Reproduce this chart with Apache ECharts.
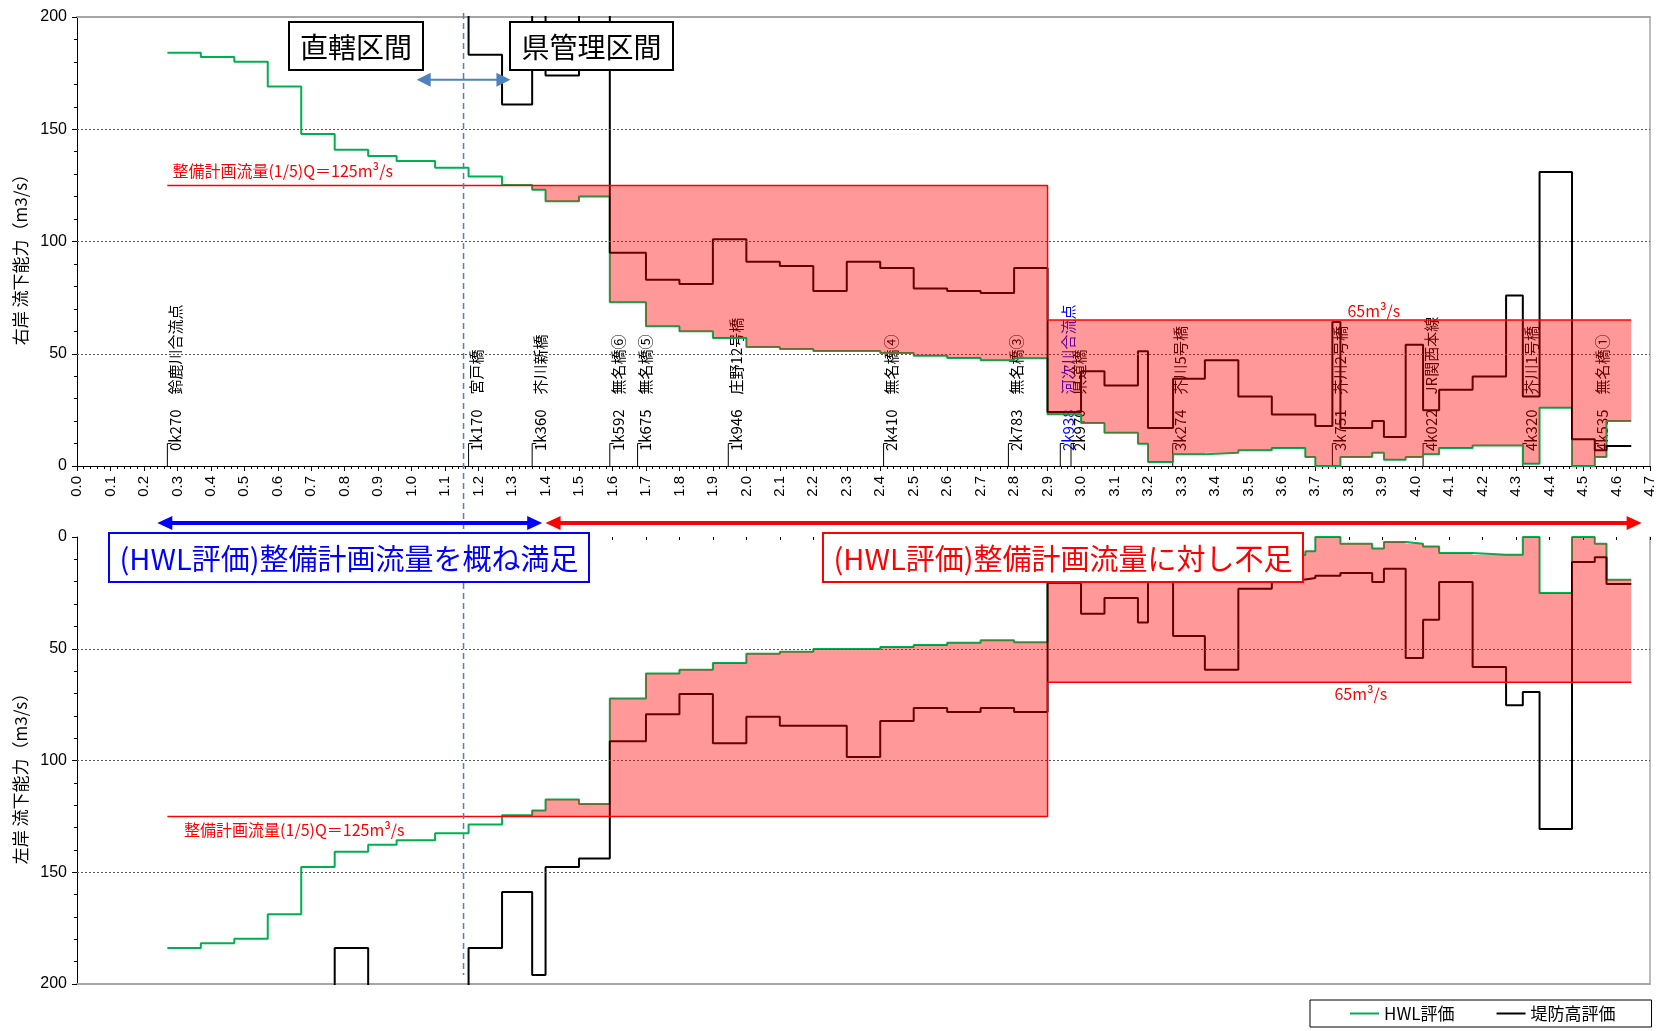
<!DOCTYPE html>
<html>
<head>
<meta charset="utf-8">
<script src="https://cdn.jsdelivr.net/npm/echarts@6/dist/echarts.min.js"></script>
<style>
  html, body { margin: 0; padding: 0; background: #fff; }
  #chart { width: 1671px; height: 1031px; }
</style>
</head>
<body>
<div id="chart"></div>
<script>
// ---- Section boundaries along the river (km) ----
const breaks = [0.27, 0.37, 0.47, 0.57, 0.67, 0.77, 0.87, 0.955, 1.07, 1.17,
  1.27, 1.36, 1.40, 1.50, 1.592, 1.70, 1.80, 1.90, 2.00, 2.10,
  2.20, 2.30, 2.40, 2.50, 2.60, 2.70, 2.80, 2.90, 3.00, 3.07,
  3.17, 3.20, 3.275, 3.37, 3.47, 3.57, 3.67, 3.70, 3.751, 3.775,
  3.87, 3.905, 3.97, 4.022, 4.07, 4.17, 4.27, 4.32, 4.37, 4.467,
  4.535, 4.57, 4.644];

// Values above the 200 m3/s axis limit (drawn off-scale)
const OFF = 230;

// ---- Right bank (右岸) flow capacity per section (m3/s) ----
const hwlRight = [184.1, 182.2, 180.1, 169.0, 147.9, 140.9, 138.1, 135.9, 132.9, 129.0,
  125.2, 123.1, 117.9, 120.0, 72.9, 62.2, 60.0, 57.0, 53.0, 52.1,
  51.2, 51.2, 50.3, 49.1, 48.1, 47.1, 48.0, 23.0, 19.2, 14.8,
  9.9, 1.8, 5.2, 5.9, 7.0, 8.0, 4.0, 0, 0, 4.0,
  5.9, 2.8, 4.0, 5.2, 8.0, 9.1, 9.1, 1.0, 26.0, 0,
  4.0, 20.0];
const leveeRight = [OFF, OFF, OFF, OFF, OFF, OFF, OFF, OFF, OFF, 183.2,
  161.0, OFF, 173.9, OFF, 95.0, 83.0, 81.1, 101.0, 91.0, 89.1,
  78.0, 91.0, 88.2, 79.1, 78.0, 77.1, 88.2, 24.1, 42.2, 35.9,
  51.1, 16.9, 38.9, 47.1, 31.0, 22.9, 22.9, 17.8, 64.1, 16.9,
  20.0, 12.9, 54.0, 24.8, 34.0, 39.9, 76.0, 31.0, 131.0, 11.9,
  7.0, 8.9];

// ---- Left bank (左岸) flow capacity per section (m3/s) ----
const hwlLeft = [183.9, 181.8, 179.7, 168.8, 147.7, 140.8, 137.7, 135.7, 132.6, 128.6,
  124.5, 122.4, 117.5, 119.5, 72.3, 61.1, 59.4, 56.4, 52.2, 51.3,
  50.1, 50.1, 49.2, 48.3, 47.3, 46.2, 47.1, 20.6, 19.0, 14.0,
  10.0, 2.0, 5.0, 6.0, 7.0, 8.0, 6.4, 0, 0, 3.0,
  5.2, 2.2, 3.0, 4.2, 7.2, 7.9, 7.9, 0, 25.1, 0,
  3.0, 19.1];
const leveeLeft = [OFF, OFF, OFF, OFF, OFF, 183.9, OFF, OFF, OFF, 183.9,
  158.8, 196.0, 147.7, 143.8, 91.4, 79.3, 70.2, 92.3, 80.4, 84.4,
  84.4, 98.4, 82.3, 76.5, 78.3, 76.5, 78.3, 20.6, 34.3, 27.3,
  38.3, 15.0, 44.3, 59.4, 23.1, 19.0, 18.3, 17.3, 17.3, 16.1,
  20.1, 14.2, 54.1, 37.0, 20.1, 58.2, 75.3, 69.4, 130.6, 11.2,
  9.1, 21.0];

// ---- Planned design flow (整備計画流量) ----
const planBreaks = [0.27, 2.90, 4.644];
const planFlow = [125, 65];

// ---- Bridges / confluences ----
const stationKm = [0.270, 1.170, 1.360, 1.592, 1.675, 1.946, 2.410, 2.783, 2.938, 2.970,
  3.274, 3.751, 4.022, 4.320, 4.535];
const stationCode = ['0k270', '1k170', '1k360', '1k592', '1k675', '1k946', '2k410', '2k783', '2k938', '2k970',
  '3k274', '3k751', '4k022', '4k320', '4k535'];
const stationName = ['鈴鹿川合流点', '宮戸橋', '芥川新橋', '無名橋⑥', '無名橋⑤', '庄野12号橋', '無名橋④', '無名橋③', '河次川合流点', '県道橋',
  '芥川5号橋', '芥川2号橋', 'JR関西本線', '芥川1号橋', '無名橋①'];
const stationIsConfluence = [false, false, false, false, false, false, false, false, true, false,
  false, false, false, false, false];

// Boundary between the national and prefectural sections (km)
const SECTION_KM = 1.155;

const FONT_JP = '"Noto Sans CJK JP", "Noto Sans", sans-serif';
const FONT_NUM = '"Liberation Sans", Arial, sans-serif';
const GREEN = '#00b050';

// step polyline: every section is a flat run, joined by vertical jumps
function stepPoints(vals) {
  const pts = [];
  vals.forEach((v, i) => { pts.push([breaks[i], v], [breaks[i + 1], v]); });
  return pts;
}

// deficit polygons between the plan flow and the HWL capacity
function deficitPolygons(hwl) {
  const polys = [];
  for (let r = 0; r < planFlow.length; r++) {
    const xa = planBreaks[r], xb = planBreaks[r + 1], q = planFlow[r];
    const pts = [[xa, q], [xb, q]];
    for (let i = breaks.length - 2; i >= 0; i--) {
      if (breaks[i] >= xa - 1e-9 && breaks[i + 1] <= xb + 1e-9) {
        const v = Math.min(hwl[i], q);
        pts.push([breaks[i + 1], v], [breaks[i], v]);
      }
    }
    polys.push(pts);
  }
  return polys;
}

function planPoints() {
  const pts = [];
  planFlow.forEach((q, i) => { pts.push([planBreaks[i], q], [planBreaks[i + 1], q]); });
  return pts;
}

function stepSeries(name, vals, color, gi, z, withGrid) {
  const s = {
    name, type: 'line', xAxisIndex: gi * 2, yAxisIndex: gi * 2,
    data: stepPoints(vals), symbol: 'none', clip: true, silent: true, z,
    lineStyle: { color, width: 2 }, itemStyle: { color }
  };
  if (withGrid) {
    s.markLine = {
      silent: true, symbol: 'none', label: { show: false }, animation: false,
      lineStyle: { type: [2, 2], color: '#555', width: 1 },
      data: [{ yAxis: 50 }, { yAxis: 100 }, { yAxis: 150 }]
    };
  }
  return s;
}

function fillSeries(hwl, gi) {
  const polys = deficitPolygons(hwl);
  return {
    type: 'custom', xAxisIndex: gi * 2, yAxisIndex: gi * 2, z: 5, silent: true,
    data: polys.map(p => p[0]),
    renderItem: (params, api) => ({
      type: 'polygon',
      shape: { points: polys[params.dataIndex].map(p => api.coord(p)) },
      style: { fill: 'rgba(255,0,0,0.4)', stroke: 'none' }
    })
  };
}

function planSeries(gi) {
  return {
    type: 'line', xAxisIndex: gi * 2, yAxisIndex: gi * 2, data: planPoints(),
    symbol: 'none', silent: true, z: 6, lineStyle: { color: '#ff0000', width: 1.5 }
  };
}

function textSeries(items, gi) {
  return {
    type: 'custom', xAxisIndex: gi * 2, yAxisIndex: gi * 2, z: 7, silent: true,
    data: items.map(t => [t.x, t.y]),
    renderItem: (params, api) => {
      const t = items[params.dataIndex];
      const p = api.coord([t.x, t.y]);
      return {
        type: 'text', x: p[0], y: p[1],
        style: { text: t.text, fill: '#ff0000', font: '16px ' + FONT_JP, align: t.align, verticalAlign: 'middle' }
      };
    }
  };
}

const stationSeries = {
  type: 'custom', xAxisIndex: 0, yAxisIndex: 0, z: 1, silent: true,
  data: stationKm.map(k => [k, 0]),
  renderItem: (params, api) => {
    const i = params.dataIndex;
    const p0 = api.coord([stationKm[i], 0]);
    const p1 = api.coord([stationKm[i], 10]);
    const color = stationIsConfluence[i] ? '#0000ff' : '#000';
    return {
      type: 'group',
      children: [
        { type: 'polyline', shape: { points: [p0, [p0[0], p1[1]], [p0[0] + 4, p1[1]]] },
          style: { stroke: '#000', lineWidth: 1, fill: 'none' } },
        { type: 'text', x: p0[0] + 8, y: p0[1] - 15, rotation: Math.PI / 2,
          style: { text: stationCode[i] + '　' + stationName[i], fill: color,
                   font: '15px ' + FONT_JP, align: 'left', verticalAlign: 'middle' } }
      ]
    };
  }
};

function mainY(gi, name, inverse) {
  return {
    gridIndex: gi, type: 'value', position: 'left', min: 0, max: 200, interval: 50, inverse,
    name, nameLocation: 'middle', nameGap: 43,
    nameTextStyle: { fontSize: 17, color: '#000', fontFamily: FONT_JP, padding: [0, 28, 0, 0] },
    axisLine: { show: true, onZero: false, lineStyle: { color: '#000', width: 1 } },
    axisTick: { show: true, length: 5, lineStyle: { color: '#000' } },
    minorTick: { show: true, splitNumber: 5, length: 3, lineStyle: { color: '#000' } },
    axisLabel: { fontSize: 16, color: '#000', margin: 10, fontFamily: FONT_NUM },
    splitLine: { show: false }
  };
}
function borderY(gi, inverse) {
  return {
    gridIndex: gi, type: 'value', position: 'right', min: 0, max: 200, inverse,
    axisLine: { show: true, onZero: false, lineStyle: { color: '#a6a6a6', width: 1.5 } },
    axisTick: { show: false }, axisLabel: { show: false }, splitLine: { show: false }
  };
}

const chart = echarts.init(document.getElementById('chart'), null, { renderer: 'canvas' });

chart.setOption({
  animation: false,
  backgroundColor: '#fff',
  grid: [
    { left: 77, right: 21, top: 17, height: 449, outerBoundsMode: 'none' },
    { left: 77, right: 21, top: 537, height: 447, outerBoundsMode: 'none' }
  ],
  xAxis: [
    { gridIndex: 0, type: 'value', position: 'bottom', min: 0, max: 4.7, interval: 0.1,
      axisLine: { show: true, onZero: false, lineStyle: { color: '#000', width: 1 } },
      axisTick: { show: true, length: 5, lineStyle: { color: '#000' } },
      minorTick: { show: true, splitNumber: 5, length: 3, lineStyle: { color: '#000' } },
      axisLabel: { rotate: 90, margin: 10, fontSize: 15, color: '#000', fontFamily: FONT_NUM,
                   formatter: v => v.toFixed(1) },
      splitLine: { show: false } },
    { gridIndex: 0, type: 'value', position: 'top', min: 0, max: 4.7,
      axisLine: { show: true, onZero: false, lineStyle: { color: '#a6a6a6', width: 2 } },
      axisTick: { show: false }, axisLabel: { show: false }, splitLine: { show: false } },
    { gridIndex: 1, type: 'value', position: 'top', min: 0, max: 4.7, interval: 0.1,
      axisLine: { show: false, onZero: false },
      axisTick: { show: true, inside: true, length: 3, lineStyle: { color: '#000' } },
      axisLabel: { show: false }, splitLine: { show: false } },
    { gridIndex: 1, type: 'value', position: 'bottom', min: 0, max: 4.7,
      axisLine: { show: true, onZero: false, lineStyle: { color: '#a6a6a6', width: 2 } },
      axisTick: { show: false }, axisLabel: { show: false }, splitLine: { show: false } }
  ],
  yAxis: [
    mainY(0, '右岸 流下能力（m3/s）', false),
    borderY(0, false),
    mainY(1, '左岸 流下能力（m3/s）', true),
    borderY(1, true)
  ],
  legend: {
    data: ['HWL評価', '堤防高評価'], left: 1310, top: 1000, orient: 'horizontal',
    selectedMode: false, icon: 'rect', itemWidth: 29, itemHeight: 2, itemGap: 42,
    padding: [5, 36, 5, 40], borderColor: '#000', borderWidth: 1,
    textStyle: { fontSize: 17, color: '#000', fontFamily: FONT_JP }
  },
  series: [
    stationSeries,
    stepSeries('HWL評価', hwlRight, GREEN, 0, 3, true),
    stepSeries('堤防高評価', leveeRight, '#000', 0, 4, false),
    fillSeries(hwlRight, 0),
    planSeries(0),
    textSeries([
      { x: 0.285, y: 131.5, text: '整備計画流量(1/5)Q＝125m³/s', align: 'left' },
      { x: 3.875, y: 69, text: '65m³/s', align: 'center' }
    ], 0),
    stepSeries('HWL評価', hwlLeft, GREEN, 1, 3, true),
    stepSeries('堤防高評価', leveeLeft, '#000', 1, 4, false),
    fillSeries(hwlLeft, 1),
    planSeries(1),
    textSeries([
      { x: 0.32, y: 131, text: '整備計画流量(1/5)Q＝125m³/s', align: 'left' },
      { x: 3.836, y: 70, text: '65m³/s', align: 'center' }
    ], 1)
  ]
});

// ---- annotations: section boundary, arrows and captions ----
function arrow(xa, xb, y, color, lw, hl, hw, both) {
  const els = [{ type: 'line', z: 70,
    shape: { x1: both ? xa + hl - 1 : xa, y1: y, x2: xb - hl + 1, y2: y },
    style: { stroke: color, lineWidth: lw } }];
  els.push({ type: 'polygon', z: 70, shape: { points: [[xb, y], [xb - hl, y - hw], [xb - hl, y + hw]] }, style: { fill: color } });
  if (both) {
    els.push({ type: 'polygon', z: 70, shape: { points: [[xa, y], [xa + hl, y - hw], [xa + hl, y + hw]] }, style: { fill: color } });
  }
  return els;
}
function box(x, y, w, h, text, color, fontSize) {
  return [
    { type: 'rect', z: 60, shape: { x, y, width: w, height: h },
      style: { fill: '#fff', stroke: color, lineWidth: 2 } },
    { type: 'text', z: 61, x: x + w / 2, y: y + h / 2 + 1,
      style: { text, fill: color, font: fontSize + 'px ' + FONT_JP, align: 'center', verticalAlign: 'middle' } }
  ];
}

const px = (gi, x, y) => chart.convertToPixel({ gridIndex: gi }, [x, y]);
const g = [];
const sx = px(0, SECTION_KM, 0)[0];
g.push({ type: 'line', z: 50,
  shape: { x1: sx, y1: px(0, SECTION_KM, 200)[1] - 4, x2: sx, y2: px(1, SECTION_KM, 196)[1] },
  style: { stroke: '#4f81bd', lineWidth: 1.5, lineDash: [6, 4] } });
g.push(...arrow(px(0, 1.015, 0)[0], px(0, 1.295, 0)[0], px(0, 0, 172)[1], '#4f81bd', 2, 14, 7, true));
g.push(...arrow(px(0, 0.24, 0)[0], px(0, 1.39, 0)[0], 523, '#0000ff', 4, 15, 7, true));
g.push(...arrow(px(0, 1.40, 0)[0], px(0, 4.675, 0)[0], 523, '#ff0000', 4, 15, 7, true));
g.push(...box(289, 22, 134, 48, '直轄区間', '#000', 28));
g.push(...box(510, 22, 163, 48, '県管理区間', '#000', 28));
g.push(...box(109, 533, 480, 49, '(HWL評価)整備計画流量を概ね満足', '#0000ff', 29));
g.push(...box(823, 533, 480, 49, '(HWL評価)整備計画流量に対し不足', '#ff0000', 29));
chart.setOption({ graphic: g });
</script>
</body>
</html>
